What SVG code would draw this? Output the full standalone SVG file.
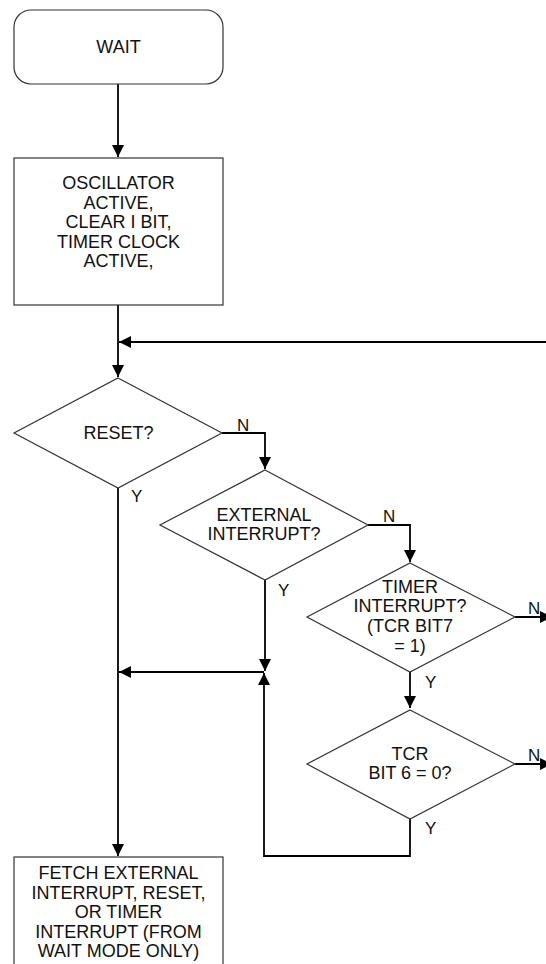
<svg xmlns="http://www.w3.org/2000/svg" width="546" height="964" viewBox="0 0 546 964">
<defs>
<marker id="ah" viewBox="0 0 12 12" refX="12" refY="6" markerWidth="12" markerHeight="12" markerUnits="userSpaceOnUse" orient="auto">
<path d="M0,0 L12,6 L0,12 Z" fill="#000"/>
</marker>
</defs>
<style>
.box{fill:#fff;stroke:#333;stroke-width:1.2}
.c{fill:none;stroke:#000;stroke-width:1.8}
text{font-family:"Liberation Sans",Arial,sans-serif;font-size:18px;fill:#111;text-anchor:middle}
.lbl{text-anchor:start;font-size:17px}
</style>
<rect width="546" height="964" fill="#fff"/>
<g id="connectors">
<path class="c" d="M118,84 V157" marker-end="url(#ah)"/>
<path class="c" d="M118,305 V377" marker-end="url(#ah)"/>
<path class="c" d="M546,342 H119" marker-end="url(#ah)"/>
<path class="c" d="M222,433 H265 V469" marker-end="url(#ah)"/>
<path class="c" d="M118,488 V856" marker-end="url(#ah)"/>
<path class="c" d="M368,525 H410 V562" marker-end="url(#ah)"/>
<path class="c" d="M265,580 V671" marker-end="url(#ah)"/>
<path class="c" d="M515,617 H552" marker-end="url(#ah)"/>
<path class="c" d="M410,672 V708" marker-end="url(#ah)"/>
<path class="c" d="M515,764 H552" marker-end="url(#ah)"/>
<path class="c" d="M410,819 V856 H264 V673" marker-end="url(#ah)"/>
<path class="c" d="M264,672 H119" marker-end="url(#ah)"/>
</g>
<g id="wait">
<rect class="box" x="14" y="10" width="209" height="74" rx="17"/>
<text x="118.5" y="53">WAIT</text>
</g>
<g id="osc">
<rect class="box" x="14" y="158" width="209" height="147"/>
<text x="118.5" y="189">OSCILLATOR</text>
<text x="118.5" y="209">ACTIVE,</text>
<text x="118.5" y="228">CLEAR I BIT,</text>
<text x="118.5" y="248">TIMER CLOCK</text>
<text x="118.5" y="267">ACTIVE,</text>
</g>
<g id="reset">
<polygon class="box" points="118,378 222,433 118,488 14,433"/>
<text x="118.5" y="439">RESET?</text>
<text class="lbl" x="237" y="431">N</text>
<text class="lbl" x="131" y="502">Y</text>
</g>
<g id="ext">
<polygon class="box" points="265,470 368,525 265,580 160,525"/>
<text x="264" y="521">EXTERNAL</text>
<text x="264" y="540">INTERRUPT?</text>
<text class="lbl" x="383" y="522">N</text>
<text class="lbl" x="278" y="596">Y</text>
</g>
<g id="timer">
<polygon class="box" points="410,563 515,617 410,672 307,617"/>
<text x="410" y="593">TIMER</text>
<text x="410" y="612">INTERRUPT?</text>
<text x="410" y="632">(TCR BIT7</text>
<text x="410" y="652">= 1)</text>
<text class="lbl" x="528" y="614">N</text>
<text class="lbl" x="425" y="688">Y</text>
</g>
<g id="tcr">
<polygon class="box" points="410,710 515,764 410,819 307,764"/>
<text x="410" y="760">TCR</text>
<text x="410" y="779">BIT 6 = 0?</text>
<text class="lbl" x="528" y="761">N</text>
<text class="lbl" x="425" y="834">Y</text>
</g>
<g id="fetch">
<rect class="box" x="14" y="857" width="209" height="112"/>
<text x="118.5" y="879">FETCH EXTERNAL</text>
<text x="118.5" y="899">INTERRUPT, RESET,</text>
<text x="118.5" y="918">OR TIMER</text>
<text x="118.5" y="938">INTERRUPT (FROM</text>
<text x="118.5" y="957">WAIT MODE ONLY)</text>
</g>
</svg>
